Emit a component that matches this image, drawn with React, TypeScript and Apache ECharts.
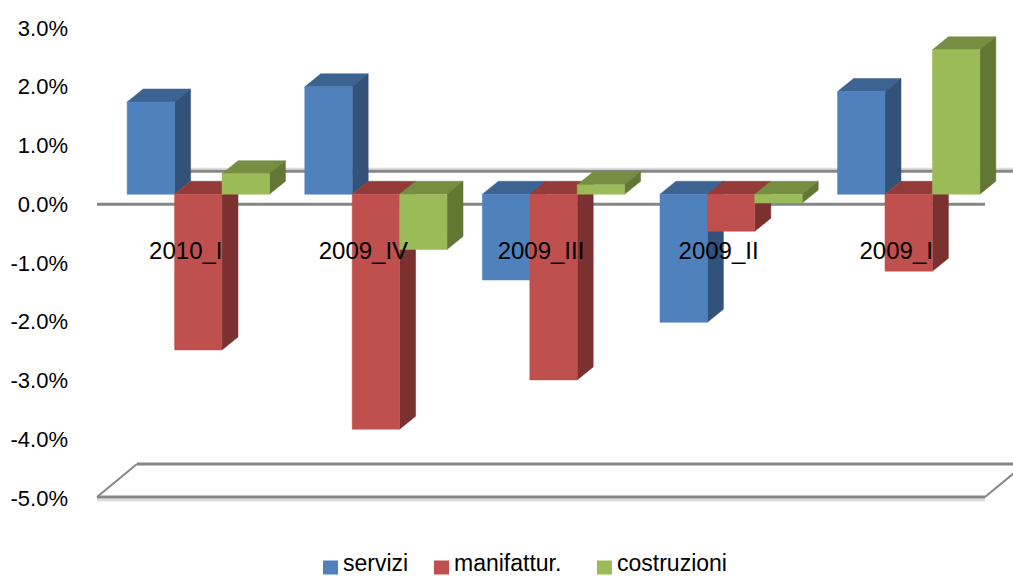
import React, { useEffect, useRef } from "react";
import * as echarts from "echarts";

const categories = ["2010_I", "2009_IV", "2009_III", "2009_II", "2009_I"];
const servizi = [1.57, 1.83, -1.46, -2.18, 1.75];
const manifattur = [-2.65, -4.0, -3.16, -0.63, -1.31];
const costruzioni = [0.35, -0.94, 0.16, -0.15, 2.46];
const planeLevels = [0, -5];
const legendNames = ["servizi", "manifattur.", "costruzioni"];
const legendLefts = [318, 429, 592];

// Pseudo-3D offsets, in pixels
const DEPTH_X = 16;
const DEPTH_Y = 13;
const BASE_LIFT = 10;
const GROUP_SHIFT = 12.5;
const BAR_RATIO = 0.267;
const PLANE_X = 40;
const PLANE_Y = 33;
const GREY = "#868686";

type Shades = { front: string; top: string; side: string };

const barRenderer = (slot: number, shades: Shades) => (_: any, api: any) => {
  const index = api.value(0);
  const value = api.value(1);
  const band = api.size([1, 0])[0];
  const w = band * BAR_RATIO;
  const cx = api.coord([index, 0])[0] + GROUP_SHIFT;
  const x0 = cx - 1.5 * w + slot * w;
  const x1 = x0 + w;
  const base = api.coord([index, 0])[1] - BASE_LIFT;
  const end = api.coord([index, value])[1] - BASE_LIFT;
  const upper = Math.min(base, end);
  const lower = Math.max(base, end);
  const poly = (points: number[][], fill: string) => ({
    type: "polygon",
    shape: { points },
    style: { fill, stroke: fill, lineWidth: 0.5 },
  });
  return {
    type: "group",
    children: [
      poly([[x0, upper], [x0 + DEPTH_X, upper - DEPTH_Y], [x1 + DEPTH_X, upper - DEPTH_Y], [x1, upper]], shades.top),
      poly([[x1, upper], [x1 + DEPTH_X, upper - DEPTH_Y], [x1 + DEPTH_X, lower - DEPTH_Y], [x1, lower]], shades.side),
      poly([[x0, upper], [x1, upper], [x1, lower], [x0, lower]], shades.front),
    ],
  };
};

// Zero plane and floor: front edge, back edge and, for the floor, the side edges
const planeRenderer = (_: any, api: any) => {
  const level = api.value(0);
  const [, y] = api.coord([0, level]);
  const band = api.size([1, 0])[0];
  const left = api.coord([0, level])[0] - band / 2;
  const right = left + band * categories.length;
  const seg = (x1: number, y1: number, x2: number, y2: number, stroke: string, lineWidth: number) => ({
    type: "line",
    shape: { x1, y1, x2, y2 },
    style: { stroke, lineWidth },
  });
  const isFloor = level !== 0;
  const yFront = isFloor ? y - 1 : y;
  const yBack = yFront - PLANE_Y;
  const children: any[] = [];
  if (isFloor) {
    children.push(seg(left, yFront + 3, right, yFront + 3, "#dddddd", 3));
    children.push(seg(left, yFront, left + PLANE_X, yBack, GREY, 2));
    children.push(seg(right, yFront, right + PLANE_X, yBack, GREY, 2));
  } else {
    children.push(seg(left + PLANE_X, yBack - 2.5, right + PLANE_X, yBack - 2.5, "#dddddd", 2));
  }
  children.push(seg(left + PLANE_X, yBack, right + PLANE_X, yBack, GREY, 3));
  children.push(seg(left, yFront, right, yFront, GREY, 3));
  return { type: "group", children };
};

const barSeries = (name: string, values: number[], slot: number, shades: Shades) => ({
  type: "custom",
  name,
  z: 3,
  silent: true,
  clip: false,
  itemStyle: { color: shades.front },
  encode: { x: 0, y: 1 },
  data: values.map((v, i) => [i, v]),
  renderItem: barRenderer(slot, shades),
});

const legendText = { fontFamily: "Liberation Sans", fontSize: 23, color: "#000000" };

const legendFor = (name: string, left: number) => ({
  left,
  top: 546,
  icon: "rect",
  itemWidth: 15,
  itemHeight: 14,
  data: [name],
  formatter: (label: string) => `{t|${label}}`,
  textStyle: {
    ...legendText,
    rich: { t: { ...legendText, padding: [0, 0, 10, 0] } },
  },
});

export default function App() {
  const ref = useRef<HTMLDivElement>(null);

  useEffect(() => {
    const chart = echarts.init(ref.current!, undefined, { renderer: "svg" });
    chart.setOption({
      animation: false,
      backgroundColor: "#ffffff",
      textStyle: { fontFamily: "Liberation Sans" },
      grid: { left: 97, right: 28, top: 28, bottom: 78 },
      legend: legendNames.map((name, i) => legendFor(name, legendLefts[i])),
      xAxis: {
        type: "category",
        data: categories,
        z: 10,
        offset: -294,
        axisLine: { show: false },
        axisTick: { show: false },
        axisLabel: {
          color: "#000000",
          fontFamily: "Liberation Sans",
          fontSize: 24,
          margin: 34,
        },
      },
      yAxis: {
        type: "value",
        min: -5,
        max: 3,
        interval: 1,
        axisLine: { show: false },
        axisTick: { show: false },
        splitLine: { show: false },
        axisLabel: {
          color: "#000000",
          fontFamily: "Liberation Sans",
          fontSize: 22,
          margin: 29,
          formatter: (v: number) => `${v.toFixed(1)}%`,
        },
      },
      series: [
        {
          type: "custom",
          z: 1,
          silent: true,
          clip: false,
          encode: { y: 0 },
          data: planeLevels.map((v) => [v]),
          renderItem: planeRenderer,
        },
        barSeries("servizi", servizi, 0, { front: "#4F81BD", top: "#3D6393", side: "#32527A" }),
        barSeries("manifattur.", manifattur, 1, { front: "#C0504D", top: "#943A38", side: "#7A312F" }),
        barSeries("costruzioni", costruzioni, 2, { front: "#9BBB59", top: "#768E42", side: "#637734" }),
      ],
    });
    return () => chart.dispose();
  }, []);

  return <div ref={ref} style={{ position: "absolute", left: 0, top: 0, width: 1013, height: 576 }} />;
}
